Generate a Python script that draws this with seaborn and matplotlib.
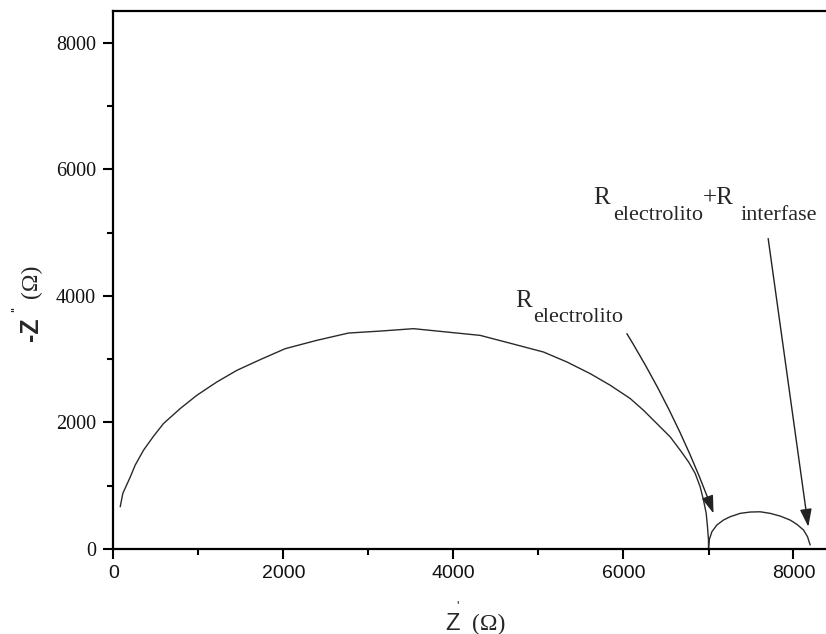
import matplotlib
matplotlib.use("Agg")
import matplotlib.pyplot as plt
import seaborn as sns
import pandas as pd

# ---- data ----
z_real = [79, 110, 198, 255, 353, 471, 588, 785, 981, 1216, 1452, 1726, 2020,
          2393, 2765, 3138, 3529, 3922, 4314, 4687, 5059, 5334, 5608, 5844,
          6079, 6235, 6392, 6549, 6667, 6765, 6843, 6902, 6941, 6973, 6988,
          7000, 7000,
          7008, 7040, 7098, 7176, 7255, 7373, 7490, 7608, 7726, 7844, 7961,
          8040, 8118, 8165, 8196]
z_imag = [667, 880, 1140, 1325, 1561, 1782, 1982, 2219, 2429, 2639, 2823, 2992,
          3165, 3297, 3412, 3443, 3481, 3428, 3375, 3244, 3112, 2955, 2771,
          2587, 2377, 2192, 1982, 1772, 1561, 1377, 1194, 983, 773, 563, 352,
          142, 0,
          142, 273, 379, 457, 510, 563, 584, 588, 563, 520, 457,
          389, 300, 194, 63]
x_ticks = [0, 2000, 4000, 6000, 8000]
y_ticks = [0, 2000, 4000, 6000, 8000]
label1_sub = "electrolito"
label2_sub = "interfase"

df = pd.DataFrame({"zr": z_real, "zi": z_imag})

sns.set_style("white")
plt.rcParams["font.family"] = ["Liberation Sans", "DejaVu Sans"]

W, H = 826, 634
fig = plt.figure(figsize=(W / 100, H / 100), dpi=100)


def fx(x):
    return x / W


def fy(y):
    return 1 - y / H


left, right, top, bottom = 113.5, 836, 11, 549
ax = fig.add_axes([fx(left), fy(bottom), (right - left) / W, (bottom - top) / H])

sns.lineplot(data=df, x="zr", y="zi", sort=False, estimator=None, ax=ax,
             color="#2a2a2a", linewidth=1.0)

ax.set_xlim(0, 8500)
ax.set_ylim(0, 8500)
ax.set_xticks(x_ticks)
ax.set_yticks(y_ticks)
ax.set_xticks([1000, 3000, 5000, 7000], minor=True)
ax.set_yticks([1000, 3000, 5000, 7000], minor=True)
ax.set_xlabel("")
ax.set_ylabel("")

for s in ax.spines.values():
    s.set_linewidth(1.6)
    s.set_color("black")
    s.set_visible(True)

ax.tick_params(which="both", bottom=True, left=True, top=False, right=False)
ax.tick_params(which="major", direction="out", length=7.5, width=1.5, color="black")
ax.tick_params(which="minor", direction="out", length=4, width=1.5, color="black")
ax.tick_params(axis="x", which="major", pad=4, labelsize=14)
ax.tick_params(axis="y", which="major", pad=5, labelsize=14.5)
for lab in ax.get_xticklabels():
    lab.set_fontfamily("Liberation Sans")
    lab.set_color("#111111")
for lab in ax.get_yticklabels():
    lab.set_fontfamily("Liberation Serif")
    lab.set_color("#111111")

serif = "Liberation Serif"
# annotation labels
ax.text(4724, 3817, "R", fontfamily=serif, fontsize=18, ha="left", va="baseline")
ax.text(4937, 3580, label1_sub, fontfamily=serif, fontsize=16, ha="left", va="baseline")
ax.text(5643, 5457, "R", fontfamily=serif, fontsize=18, ha="left", va="baseline")
ax.text(5878, 5205, label1_sub, fontfamily=serif, fontsize=16, ha="left", va="baseline")
ax.text(6930, 5457, "+R", fontfamily=serif, fontsize=18, ha="left", va="baseline")
ax.text(7373, 5205, label2_sub, fontfamily=serif, fontsize=16, ha="left", va="baseline")

arrow_kw = dict(arrowstyle="-|>,head_length=0.9,head_width=0.3", color="#222222",
                lw=1.0, shrinkA=0, shrinkB=0, mutation_scale=12)
ax.annotate("", xy=(7059, 563), xytext=(6040, 3402),
            arrowprops=dict(connectionstyle="arc3,rad=-0.05", **arrow_kw))
ax.annotate("", xy=(8174, 352), xytext=(7702, 4905),
            arrowprops=dict(connectionstyle="arc3,rad=0.0", **arrow_kw))

# x label: Z' (Ω)
fig.text(fx(445), fy(630), "Z", fontfamily="Liberation Sans", fontsize=17,
         ha="left", va="baseline")
fig.text(fx(456), fy(609), "'", fontfamily="Liberation Sans", fontsize=9,
         ha="left", va="baseline")
fig.text(fx(472), fy(630), "(Ω)", fontfamily=serif, fontsize=17,
         ha="left", va="baseline")

# y label: -Z'' (Ω)  (rotated)
fig.text(fx(38), fy(341), "-Z", fontfamily="Liberation Sans", fontsize=18,
         fontweight="bold", rotation=90, rotation_mode="anchor",
         ha="left", va="baseline")
fig.text(fx(21), fy(312), "''", fontfamily="Liberation Sans", fontsize=11,
         rotation=90, rotation_mode="anchor", ha="left", va="baseline")
fig.text(fx(37), fy(298), "(Ω)", fontfamily=serif, fontsize=17,
         rotation=90, rotation_mode="anchor", ha="left", va="baseline")

fig.savefig("out.png", dpi=100)
